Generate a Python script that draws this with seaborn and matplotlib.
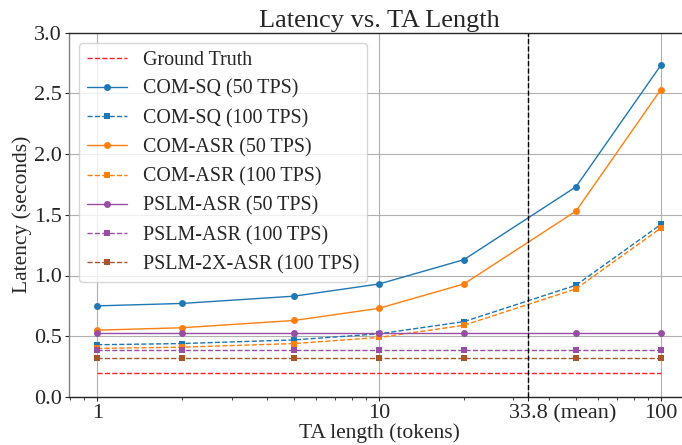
import matplotlib
matplotlib.use("Agg")
import matplotlib.pyplot as plt
import matplotlib.ticker as mticker
import matplotlib.transforms as mtransforms
import numpy as np
import seaborn as sns

ta_length = [1, 2, 5, 10, 20, 50, 100]
mean_length = 33.8

ground_truth = [0.20] * 7
com_sq_50 = [0.75, 0.77, 0.83, 0.93, 1.13, 1.73, 2.73]
com_sq_100 = [0.43, 0.44, 0.47, 0.52, 0.62, 0.92, 1.42]
com_asr_50 = [0.55, 0.57, 0.63, 0.73, 0.93, 1.53, 2.53]
com_asr_100 = [0.40, 0.41, 0.44, 0.49, 0.59, 0.89, 1.39]
pslm_asr_50 = [0.53] * 7
pslm_asr_100 = [0.39] * 7
pslm_2x_asr_100 = [0.32] * 7

x_ticks = [1, 10, 33.8, 100]
x_tick_labels = ["1", "10", "33.8 (mean)", "100"]

series = [
    ("Ground Truth", ground_truth, "#ff2020", "--", None),
    ("COM-SQ (50 TPS)", com_sq_50, "#1f77b4", "-", "o"),
    ("COM-SQ (100 TPS)", com_sq_100, "#1f77b4", "--", "s"),
    ("COM-ASR (50 TPS)", com_asr_50, "#ff7f0e", "-", "o"),
    ("COM-ASR (100 TPS)", com_asr_100, "#ff7f0e", "--", "s"),
    ("PSLM-ASR (50 TPS)", pslm_asr_50, "#984ea3", "-", "o"),
    ("PSLM-ASR (100 TPS)", pslm_asr_100, "#984ea3", "--", "s"),
    ("PSLM-2X-ASR (100 TPS)", pslm_2x_asr_100, "#a65628", "--", "s"),
]

sns.set_theme(style="ticks")
plt.rcParams["font.family"] = ["Liberation Serif", "DejaVu Serif"]

fig = plt.figure(figsize=(6.82, 4.45), dpi=100)
ax = fig.add_axes([69 / 682, 48 / 445, 620 / 682, 364.5 / 445])

for label, values, color, ls, marker in series:
    sns.lineplot(x=ta_length, y=values, ax=ax, color=color, linestyle=ls,
                 marker=marker, markersize=5, markeredgewidth=0,
                 linewidth=1, label=label)

ax.axvline(mean_length, color="black", linestyle="--", linewidth=1)

ax.set_xscale("log")
ax.set_xlim(10 ** -0.1, 10 ** 2.1)
ax.set_ylim(0, 3.0)
ax.set_xticks(x_ticks)
ax.set_xticklabels(x_tick_labels)
ax.xaxis.set_minor_formatter(mticker.NullFormatter())
ax.set_yticks(np.arange(0, 3.01, 0.5))
ax.tick_params(axis="both", which="major", labelsize=16, length=3, width=0.8, pad=2)
ax.tick_params(axis="x", which="minor", length=2, width=0.6)
ax.grid(True, which="major", color="#b0b0b0", linewidth=0.8)
for s in ax.spines.values():
    s.set_linewidth(1)
ax.spines["left"].set_color("#808080")

# keep "33.8" centred on its tick, "(mean)" trailing to the right
mean_lbl = ax.get_xticklabels()[2]
mean_lbl.set_horizontalalignment("left")
mean_lbl.set_transform(mean_lbl.get_transform() +
                       mtransforms.ScaledTranslation(-0.19, 0, fig.dpi_scale_trans))

ax.set_xlabel("TA length (tokens)", fontsize=15.5, labelpad=0)
ax.set_ylabel("Latency (seconds)", fontsize=15.5, labelpad=1.5)
ax.set_title("Latency vs. TA Length", fontsize=19, pad=4)
ax.legend(loc="upper left", fontsize=14.4, framealpha=0.8)

fig.savefig("out.png", dpi=100)
